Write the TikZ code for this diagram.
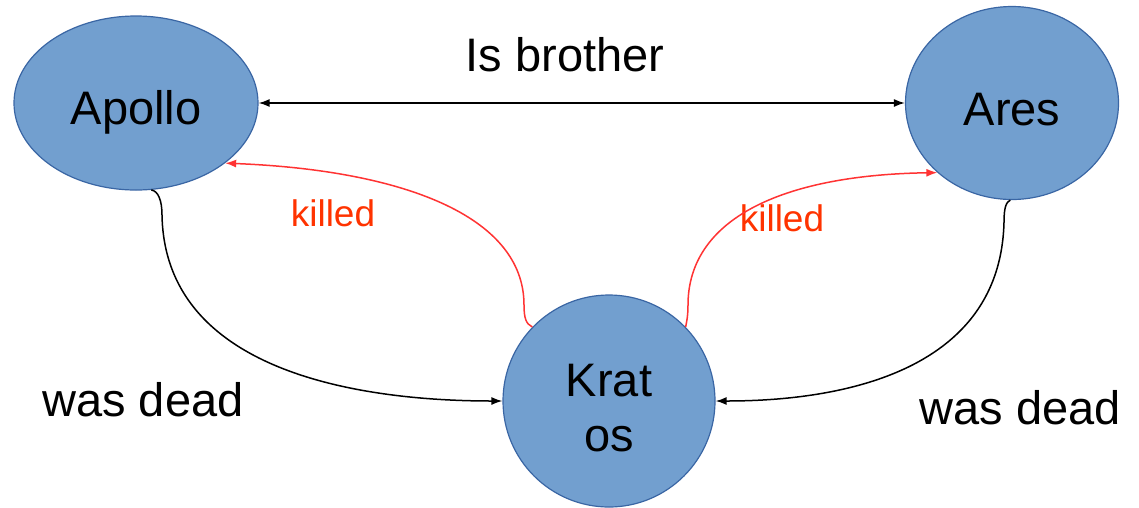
\documentclass[tikz,border=0pt]{standalone}
\usepackage{fontspec}
\setmainfont{Liberation Sans}
\usetikzlibrary{shapes.geometric,arrows.meta}
\definecolor{nodefill}{RGB}{114,159,207}
\definecolor{nodeborder}{RGB}{58,102,164}
\definecolor{arrred}{RGB}{255,51,51}
\definecolor{txtred}{RGB}{255,51,0}
\tikzset{
  god/.style={ellipse, fill=nodefill, draw=nodeborder, line width=1.2pt, inner sep=0pt,
    font=\fontsize{47}{55}\selectfont, align=center},
  blk/.style={draw=black, line width=1.5pt, -{Latex[length=11pt,width=8pt]}},
  redarr/.style={draw=arrred, line width=1.5pt, -{Latex[length=11pt,width=8pt]}},
  biglbl/.style={font=\fontsize{47}{55}\selectfont, inner sep=0pt},
  redlbl/.style={font=\fontsize{37}{44}\selectfont, text=txtred, inner sep=0pt}
}
\begin{document}
\begin{tikzpicture}[x=1pt,y=-1pt]
\useasboundingbox (0,0) rectangle (1139,507);
\node[god, minimum width=244pt, minimum height=174pt, text height=42pt, text depth=0pt] (Apollo) at (136,103) {Apollo};
\node[god, minimum width=213pt, minimum height=193pt, text height=44pt, text depth=0pt] (Ares) at (1012,103) {Ares};
\node[god, minimum width=212pt, minimum height=212pt, text height=101pt] (Kratos) at (609,401) {Krat\\os};

\node[biglbl] (brother) at (565,55) {Is brother};
\node[biglbl] (deadL) at (143,400) {was dead};
\node[biglbl] (deadR) at (1020,408) {was dead};
\node[redlbl] (killedL) at (333,213) {killed};
\node[redlbl] (killedR) at (782,218) {killed};

\draw[blk, {Latex[length=11pt,width=8pt]}-{Latex[length=11pt,width=8pt]}] (Apollo.east) -- (Ares.west);

\draw[redarr] (Kratos.136) .. controls (526,324) and (524,318) .. (524,305)
  .. controls (524,215) and (400,170) .. (Apollo.-34);
\draw[redarr] (Kratos.44) .. controls (686,324) and (688,318) .. (688,305)
  .. controls (688,220) and (780,175) .. (Ares.-137);

\draw[blk] (Apollo.-80) .. controls (158,191) and (162,200) .. (162,215)
  .. controls (165,380) and (380,401) .. (Kratos.west);
\draw[blk] (Ares.-91) .. controls (1006,202) and (1004,208) .. (1004,222)
  .. controls (1000,390) and (800,401) .. (Kratos.east);
\end{tikzpicture}
\end{document}
